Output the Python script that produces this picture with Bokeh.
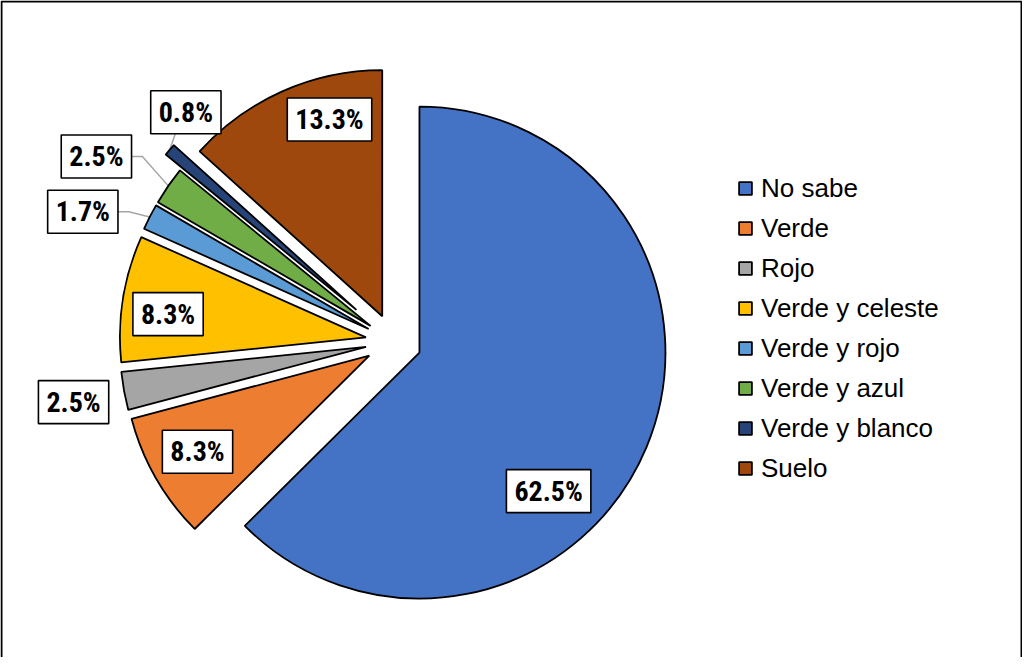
import math
from bokeh.plotting import figure
from bokeh.models import ColumnDataSource, Range1d, Legend, LegendItem
from bokeh.core.properties import value
from bokeh.embed import file_html
from bokeh.resources import INLINE

# ---- data ----
categories = ["No sabe", "Verde", "Rojo", "Verde y celeste", "Verde y rojo",
              "Verde y azul", "Verde y blanco", "Suelo"]
percent = [62.5, 8.3, 2.5, 8.3, 1.7, 2.5, 0.8, 13.3]
colors = ["#4472C4", "#ED7D31", "#A5A5A5", "#FFC000", "#5B9BD5",
          "#70AD47", "#264478", "#9E480E"]

# ---- layout ----
W, H = 1022, 657
CX, CY = 393.1, 315.7
R = 246
explode = [28, 28, 28, 28, 28, 28, 49, 28]
label_angle = [137, 240.8, 259.3, 276.7, 292.3, 301.7, 319.2, 345]
label_dist = [0.77, 0.80, 1.21, 0.81, 1.256, 1.31, 1.061, 0.828]
leader = [None, None, None, None, "side", "side", "below", None]

total = sum(percent)
xs, ys, sa, ea, lx, ly, lbl = [], [], [], [], [], [], []
lead_x, lead_y = [], []
acc = 0.0
for i, v in enumerate(percent):
    t1 = 360.0 * acc / total
    acc += v
    t2 = 360.0 * acc / total
    mid = math.radians((t1 + t2) / 2)
    ax = CX + explode[i] * math.sin(mid)
    ay = CY + explode[i] * math.cos(mid)
    xs.append(ax)
    ys.append(ay)
    sa.append(math.radians(90 - t1))
    ea.append(math.radians(90 - t2))
    la = math.radians(label_angle[i])
    px = ax + label_dist[i] * R * math.sin(la)
    py = ay + label_dist[i] * R * math.cos(la)
    lx.append(px)
    ly.append(py)
    lbl.append(f"{v:.1f}%")
    ox = ax + R * math.sin(mid)
    oy = ay + R * math.cos(mid)
    if leader[i] == "side":
        lead_x.append([px + 35, px + 46, ox])
        lead_y.append([py, py, oy])
    elif leader[i] == "below":
        lead_x.append([px - 10, ox])
        lead_y.append([py - 20, oy])

src = ColumnDataSource(dict(x=xs, y=ys, start=sa, end=ea, color=colors,
                            cat=categories))
lsrc = ColumnDataSource(dict(x=lx, y=ly, text=lbl))

p = figure(width=W, height=H, x_range=Range1d(0, W), y_range=Range1d(0, H),
           output_backend="svg", toolbar_location=None, min_border=0,
           x_axis_type=None, y_axis_type=None)
p.grid.visible = False
p.outline_line_color = None

# chart-area frame (left, top and right sides; bottom falls outside the view)
p.line(x=[1, 1, W - 1, W - 1], y=[-5, H - 1, H - 1, -5],
       line_color="black", line_width=2)

p.multi_line(xs=lead_x, ys=lead_y, line_color="#A6A6A6", line_width=1.5)

wr = p.wedge(x="x", y="y", radius=R, start_angle="start", end_angle="end",
             direction="clock", fill_color="color", line_color="black",
             line_width=1.8, source=src)

p.text(x="x", y="y", text="text", source=lsrc,
       text_font=value("Roboto Condensed, Roboto, Liberation Sans"),
       text_font_style="bold",
       text_font_size="28px", text_align="center", text_baseline="middle",
       text_color="black", background_fill_color="white",
       border_line_color="black", border_line_width=1.6,
       padding=dict(left=8, right=8, top=5, bottom=5))

items = [LegendItem(label=c, renderers=[wr], index=i)
         for i, c in enumerate(categories)]
legend = Legend(items=items, location=(737, 169), padding=0, margin=0,
                border_line_alpha=0, background_fill_alpha=0,
                label_text_font="Liberation Sans", label_text_color="black",
                label_text_font_size="26px", glyph_width=16, glyph_height=16,
                label_height=40, spacing=0, label_standoff=8)
p.add_layout(legend)

open("out.html", "w").write(file_html(p, INLINE))
